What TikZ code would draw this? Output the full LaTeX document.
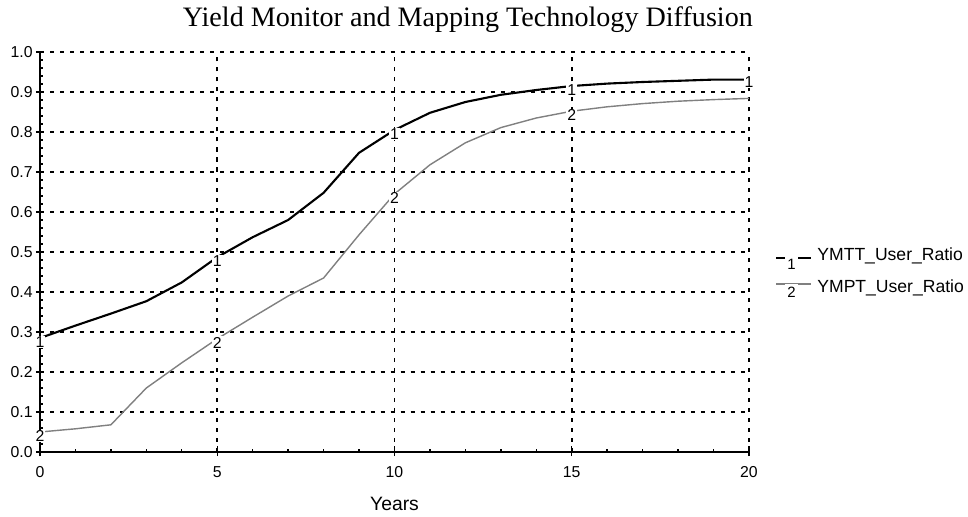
\documentclass[tikz,border=0pt]{standalone}
\usepackage{fontspec}
\setmainfont{Liberation Serif}
\setsansfont{Liberation Sans}
\usetikzlibrary{positioning}
\tikzset{
  gridline/.style={line width=1pt, dash pattern=on 2.3pt off 3.4pt},
  axisline/.style={line width=1.1pt},
  tickmark/.style={line width=0.8pt},
  ticklabel/.style={font=\sffamily\fontsize{9}{10}\selectfont, inner sep=0pt},
  curvelabel/.style={font=\sffamily\fontsize{9}{10}\selectfont, fill=white, inner sep=0.5pt, yshift=-0.08cm},
  legendnum/.style={font=\sffamily\fontsize{8.5}{10}\selectfont, fill=white, inner sep=1.6pt},
  ymtt/.style={line width=1.2pt, black},
  ympt/.style={line width=0.8pt, black!50},
}
\begin{document}
\begin{tikzpicture}[x=0.709cm, y=8cm]
\useasboundingbox (-1.128,-0.16) rectangle (26.178,1.13);
% grid
\foreach \i in {1,...,10}
  \draw[gridline] (0,{\i/10}) -- (20,{\i/10});
\foreach \x in {5,10,15,20}
  \draw[gridline] (\x,0) -- (\x,1);
% axes
\draw[axisline] (0,0) -- (0,1);
\draw[axisline] (0,0) -- (20,0);
\foreach \i in {0,...,10}
  \draw[tickmark] ([xshift=-0.08cm]0,{\i/10}) -- (0,{\i/10});
\foreach \i in {1,...,49}
  \draw[tickmark] (0,{\i/50}) -- ([xshift=0.06cm]0,{\i/50});
\foreach \x in {0,5,...,20}
  \draw[tickmark] ([yshift=-0.08cm]\x,0) -- ([yshift=0.12cm]\x,0);
\foreach \x in {1,...,19}
  \draw[tickmark] (\x,0) -- ([yshift=0.06cm]\x,0);
% tick labels
\foreach \i/\t in {0/0.0,1/0.1,2/0.2,3/0.3,4/0.4,5/0.5,6/0.6,7/0.7,8/0.8,9/0.9,10/1.0}
  \node[ticklabel, anchor=east] (ylab\i) at ([xshift=-0.14cm]0,{\i/10}) {\t};
\foreach \x in {0,5,...,20}
  \node[ticklabel, anchor=north] (xlab\x) at ([yshift=-0.28cm]\x,0) {\x};
\node[font=\sffamily\fontsize{11}{12}\selectfont] (xtitle) at (10,-0.13) {Years};
\node[font=\fontsize{16}{18}\selectfont] (title) at (12.07,1.08) {Yield Monitor and Mapping Technology Diffusion};
% curves
\draw[ympt] plot coordinates {(0,0.05) (1,0.058) (2,0.068) (3,0.16) (4,0.223) (5,0.283)
  (6,0.337) (7,0.39) (8,0.435) (9,0.543) (10,0.645) (11,0.718) (12,0.773) (13,0.811)
  (14,0.835) (15,0.852) (16,0.863) (17,0.871) (18,0.877) (19,0.881) (20,0.884)};
\draw[ymtt] plot coordinates {(0,0.285) (1,0.316) (2,0.346) (3,0.377) (4,0.424) (5,0.487)
  (6,0.537) (7,0.58) (8,0.648) (9,0.748) (10,0.805) (11,0.848) (12,0.875) (13,0.893)
  (14,0.905) (15,0.915) (16,0.921) (17,0.925) (18,0.928) (19,0.931) (20,0.931)};
% curve numbers
\node[curvelabel] (c2a) at (0,0.05) {2};
\node[curvelabel] (c2b) at (5,0.283) {2};
\node[curvelabel] (c2c) at (10,0.645) {2};
\node[curvelabel] (c2d) at (15,0.852) {2};
\node[curvelabel] (c1a) at (0,0.285) {1};
\node[curvelabel] (c1b) at (5,0.487) {1};
\node[curvelabel] (c1c) at (10,0.805) {1};
\node[curvelabel] (c1d) at (15,0.915) {1};
\node[curvelabel, yshift=0.04cm] (c1e) at (20,0.931) {1};
% legend
\coordinate (leg1-start) at (20.77,0.485);
\coordinate (leg1-end) at (21.75,0.485);
\coordinate (leg2-start) at (20.77,0.42);
\coordinate (leg2-end) at (21.75,0.42);
\draw[ymtt, line width=0.9pt] (leg1-start) -- (leg1-end);
\draw[ympt, line width=0.7pt] (leg2-start) -- (leg2-end);
\node[legendnum] (leg1-num) at (21.2,0.47) {1};
\node[legendnum] (leg2-num) at (21.2,0.399) {2};
\node[ticklabel, anchor=west, font=\sffamily\fontsize{10}{12}\selectfont] (leg1-text) at (21.92,0.49) {YMTT\_User\_Ratio};
\node[ticklabel, anchor=west, font=\sffamily\fontsize{10}{12}\selectfont] (leg2-text) at (21.92,0.41) {YMPT\_User\_Ratio};
\end{tikzpicture}
\end{document}
